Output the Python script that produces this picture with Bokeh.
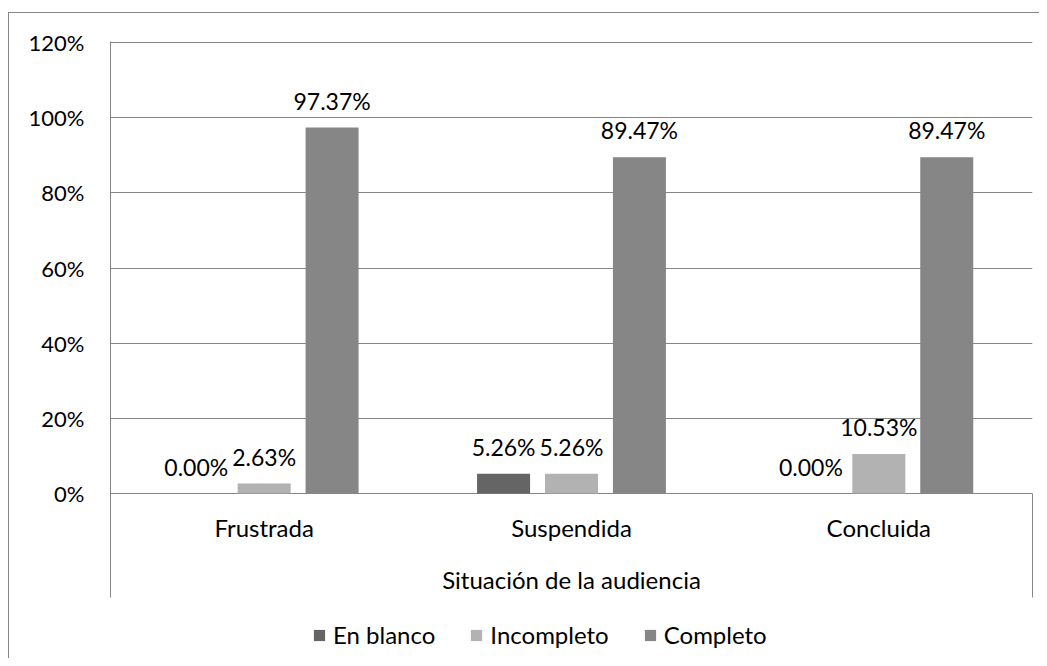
from bokeh.plotting import figure
from bokeh.models import (ColumnDataSource, Range1d, FixedTicker, NumeralTickFormatter,
                          Legend, LegendItem, LinearAxis)
from bokeh.core.properties import value
from bokeh.embed import file_html
from bokeh.resources import INLINE

# ---- data ----
categories = ["Frustrada", "Suspendida", "Concluida"]
series_names = ["En blanco", "Incompleto", "Completo"]
en_blanco = [0.0, 0.0526, 0.0]
incompleto = [0.0263, 0.0526, 0.1053]
completo = [0.9737, 0.8947, 0.8947]
y_ticks = [0.0, 0.2, 0.4, 0.6, 0.8, 1.0, 1.2]
axis_title = "Situación de la audiencia"

# ---- style ----
colors = ["#656565", "#b2b2b2", "#868686"]
offsets = [-0.221, 0.0, 0.221]
BAR_W = 0.1725
FONT = "Lato"
FS = "24px"
FS_LAB = "23px"
FS_TICK = "22px"
GRAY = "#868686"
PX = 451 / y_ticks[-1]          # pixels per unit on the value axis
FRAME_H = 617                   # plot area incl. category band and legend strip
BAND_PX = 104                   # height of the category-label band
y_end = y_ticks[-1] + 1 / PX
y_start = y_end - FRAME_H / PX
band_start = -BAND_PX / PX

n = len(categories)
p = figure(frame_width=922, frame_height=FRAME_H,
           x_range=Range1d(-0.5, n - 0.5), y_range=Range1d(y_start, y_end),
           output_backend="svg", toolbar_location=None,
           min_border_left=101, min_border_top=28, min_border_right=7,
           min_border_bottom=0)
p.outline_line_color = None
p.background_fill_color = "white"
p.border_fill_color = "white"

renderers = []
for name, vals, off, col in zip(series_names, [en_blanco, incompleto, completo], offsets, colors):
    xs = [i + off for i in range(n)]
    src = ColumnDataSource(dict(x=xs, top=vals,
                                label=[f"{v * 100:.2f}%" for v in vals]))
    r = p.vbar(x="x", top="top", bottom=0, width=BAR_W, source=src,
               fill_color=col, line_color=None)
    p.text(x="x", y="top", text="label", source=src, text_align="center",
           text_baseline="alphabetic", y_offset=-27,
           text_font=value(FONT), text_font_size=FS_LAB, text_color="black")
    renderers.append((name, r))

# category labels and axis title, hung below the 0 baseline
cat_src = ColumnDataSource(dict(x=list(range(n)), y=[0.0] * n, t=categories))
p.text(x="x", y="y", text="t", source=cat_src, text_align="center",
       text_baseline="alphabetic", y_offset=34,
       text_font=value(FONT), text_font_size=FS, text_color="black")
title_src = ColumnDataSource(dict(x=[(n - 1) / 2], y=[0.0], t=[axis_title]))
p.text(x="x", y="y", text="t", source=title_src, text_align="center",
       text_baseline="alphabetic", y_offset=86,
       text_font=value(FONT), text_font_size=FS, text_color="black")

# y axis
yt = FixedTicker(ticks=y_ticks)
p.yaxis.ticker = yt
p.yaxis.bounds = (band_start, y_end)
p.yaxis.formatter = NumeralTickFormatter(format="0%")
p.yaxis.major_tick_out = 0
p.yaxis.major_tick_in = 0
p.yaxis.minor_tick_out = 0
p.yaxis.axis_line_color = GRAY
p.yaxis.major_label_standoff = 26
p.yaxis.major_label_text_font = FONT
p.yaxis.major_label_text_font_size = FS_TICK
p.yaxis.major_label_text_color = "black"
p.ygrid.ticker = yt
p.ygrid.grid_line_color = GRAY
p.xgrid.visible = False
p.xaxis.visible = False

# right edge line of the category band
right_line = LinearAxis(bounds=(band_start, 0), ticker=FixedTicker(ticks=[]),
                        major_tick_out=0, major_tick_in=0, minor_tick_out=0,
                        minor_tick_in=0, major_label_text_alpha=0,
                        axis_line_color=GRAY)
p.add_layout(right_line, "right")

legend = Legend(items=[LegendItem(label=nm, renderers=[r]) for nm, r in renderers],
                orientation="horizontal", location=(202, 9),
                glyph_width=14, glyph_height=14, label_height=29,
                label_standoff=7, spacing=34,
                padding=0, margin=0, border_line_color=None,
                background_fill_alpha=0,
                label_text_font=FONT, label_text_font_size=FS,
                label_text_color="black")
p.add_layout(legend, "center")

p.styles = {"border-left": "1px solid #868686", "border-top": "1px solid #868686",
            "margin-top": "12px", "margin-left": "8px"}

open("out.html", "w").write(file_html(p, INLINE))
